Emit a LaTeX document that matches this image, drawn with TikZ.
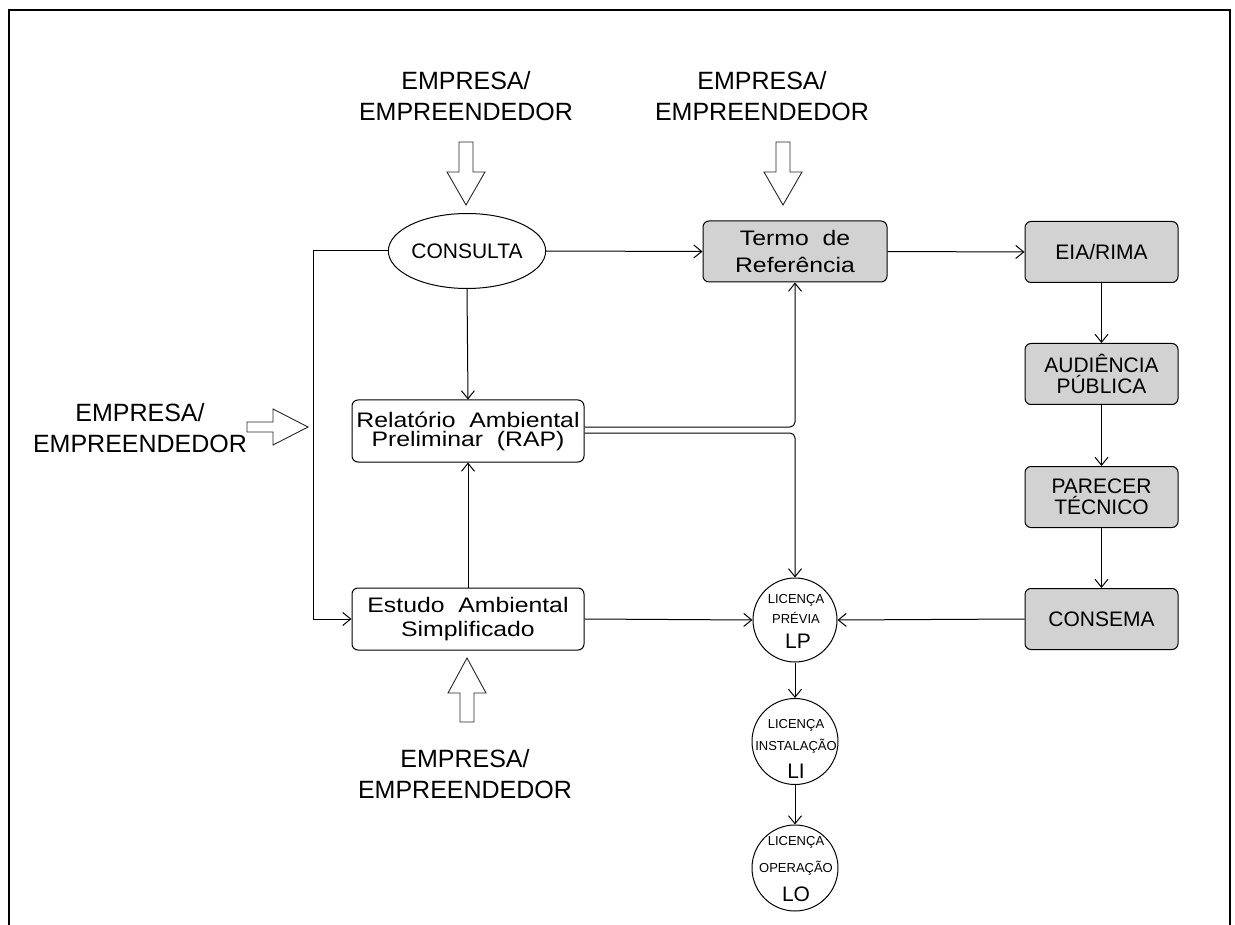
\documentclass[tikz,border=0pt]{standalone}
\usepackage{fontspec}
\setmainfont{Liberation Sans}
\newfontfamily\cadfont{Liberation Sans}[FakeStretch=1.18]
\usetikzlibrary{arrows.meta,shapes.geometric}
\tikzset{
  arr/.style={-{Straight Barb[length=8pt,width=13pt]}},
  conn/.style={draw, line width=1pt, arr},
  whitebox/.style={draw, line width=1pt, rounded corners=6pt, inner sep=0pt, minimum width=232pt, minimum height=62pt, align=center, font=\cadfont\fontsize{21}{19}\selectfont},
  graybox/.style={draw, line width=1pt, rounded corners=6pt, inner sep=0pt, fill=gray!35, minimum width=153pt, minimum height=61pt, align=center, font=\fontsize{21}{21}\selectfont},
  lic/.style={draw, circle, line width=1pt, inner sep=0pt, minimum size=86pt},
  small/.style={inner sep=0pt, anchor=base, font=\fontsize{13}{13}\selectfont},
  big/.style={inner sep=0pt, anchor=base, font=\fontsize{21}{21}\selectfont},
  actor/.style={inner sep=0pt, align=center, font=\fontsize{25}{31}\selectfont},
  blockarrow/.style={draw=black!85, line width=0.9pt, fill=white}
}
\begin{document}
\begin{tikzpicture}[x=1pt,y=-1pt]
\useasboundingbox (0,0) rectangle (1235,925);
% frame
\draw[line width=1.3pt] (9,925) -- (9,10) -- (1230,10) -- (1230,925);

% actors
\node[actor] (a1) at (466,96) {EMPRESA/\\EMPREENDEDOR};
\node[actor] (a2) at (762,96) {EMPRESA/\\EMPREENDEDOR};
\node[actor] (a3) at (465,774) {EMPRESA/\\EMPREENDEDOR};
\node[actor] (a4) at (140,428) {EMPRESA/\\EMPREENDEDOR};

% block arrows
\draw[blockarrow] (459,142) -- (473,142) -- (473,172) -- (485,172) -- (466,205) -- (447,172) -- (459,172) -- cycle;
\draw[blockarrow] (776,142) -- (790,142) -- (790,172) -- (802,172) -- (783,205) -- (764,172) -- (776,172) -- cycle;
\draw[blockarrow] (460,722) -- (474,722) -- (474,693) -- (486,693) -- (467,658) -- (448,693) -- (460,693) -- cycle;
\draw[blockarrow] (247,422) -- (273,422) -- (273,409) -- (308,427) -- (273,445) -- (273,432) -- (247,432) -- cycle;

% main nodes
\node[draw, ellipse, line width=1pt, inner sep=0pt, minimum width=139pt, minimum height=75pt, font=\fontsize{21}{21}\selectfont] (cons) at (467,251) {CONSULTA};
\node[whitebox] (rap) at (468,431) {Relatório\ \ Ambiental\\Preliminar\ \ (RAP)};
\node[whitebox, font=\cadfont\fontsize{21}{24}\selectfont] (est) at (468,619) {Estudo\ \ Ambiental\\Simplificado};
\node[graybox, minimum width=184pt, font=\cadfont\fontsize{21}{27}\selectfont] (termo) at (795,251.5) {Termo\ \ de\\Referência};
\node[graybox] (eia) at (1101.5,252) {EIA/RIMA};
\node[graybox] (aud) at (1101.5,374) {AUDIÊNCIA\\PÚBLICA};
\node[graybox] (par) at (1101.5,497) {PARECER\\TÉCNICO};
\node[graybox] (csm) at (1101.5,619) {CONSEMA};

% licence circles
\node[lic, minimum size=84pt] (lp) at (795,620) {};
\node[small] (lp1) at (796,603) {LICENÇA};
\node[small] (lp2) at (796,623) {PRÉVIA};
\node[big] (lp3) at (798,648) {LP};
\node[lic] (li) at (795,741.5) {};
\node[small] (li1) at (796,728) {LICENÇA};
\node[small] (li2) at (796,750) {INSTALAÇÃO};
\node[big] (li3) at (796,778) {LI};
\node[lic] (lo) at (795,868) {};
\node[small] (lo1) at (796,845) {LICENÇA};
\node[small] (lo2) at (796,872) {OPERAÇÃO};
\node[big] (lo3) at (796,901) {LO};

% connectors
\coordinate (lft) at (313,251);
\draw[conn] (cons.west) -- (lft) |- (est.west);
\draw[conn] (cons.east) -- (termo.west);
\draw[conn] (cons.south) -- (rap.north);
\draw[conn] (est.north) -- (rap.south);
\draw[conn] (est.east) -- (lp.west);
\draw[conn, rounded corners=5pt] ([yshift=4pt]rap.east) -| (termo.south);
\draw[conn, rounded corners=5pt] ([yshift=-2pt]rap.east) -| (lp.north);
\draw[conn] (termo.east) -- (eia.west);
\draw[conn] (eia.south) -- (aud.north);
\draw[conn] (aud.south) -- (par.north);
\draw[conn] (par.south) -- (csm.north);
\draw[conn] (csm.west) -- (lp.east);
\draw[conn] (lp.south) -- (li.north);
\draw[conn] (li.south) -- (lo.north);
\end{tikzpicture}
\end{document}
